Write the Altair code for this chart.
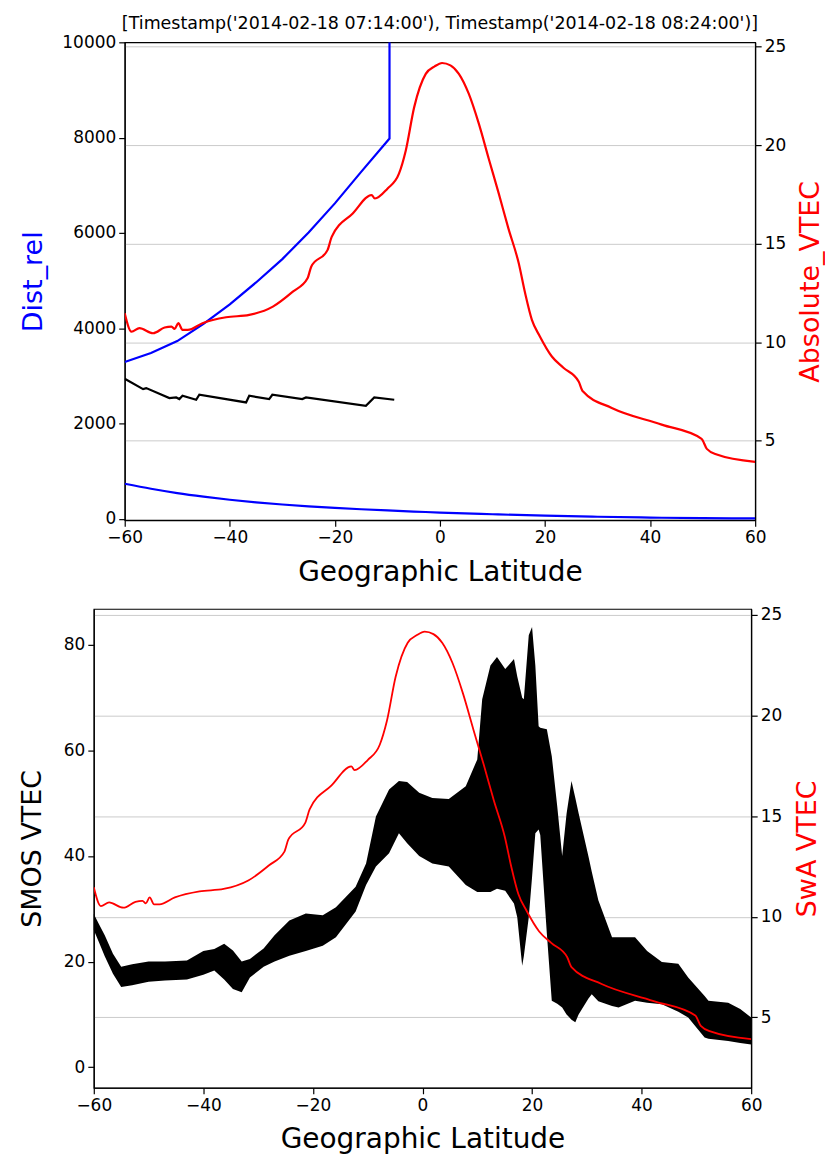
import altair as alt
import pandas as pd

FONT = "DejaVu Sans"

title_text = "[Timestamp('2014-02-18 07:14:00'), Timestamp('2014-02-18 08:24:00')]"
x_ticks = [-60, -40, -20, 0, 20, 40, 60]
left_top_ticks = [0, 2000, 4000, 6000, 8000, 10000]
left_bot_ticks = [0, 20, 40, 60, 80]
right_ticks = [5, 10, 15, 20, 25]

# --- top panel: Dist_rel (left axis) ---
blue_up_lat = [-60, -55, -50, -45, -40, -35, -30, -25, -20, -15, -9.6, -9.6]
blue_up_val = [3290, 3480, 3730, 4090, 4500, 4960, 5450, 6010, 6620, 7280, 7980, 10000]

blue_low_lat = [-60, -55, -50, -45, -40, -35, -30, -25, -20, -15, -10, -5, 0, 10, 20, 30, 40, 50, 60]
blue_low_val = [735, 630, 540, 465, 400, 345, 300, 260, 228, 200, 175, 152, 130, 95, 65, 42, 25, 14, 8]

black_lat = [-60, -56.5, -55.9, -51.5, -50.2, -49.6, -49.0, -46.4, -45.8, -36.9, -36.3,
             -32.5, -31.9, -26.2, -25.5, -14.1, -12.5, -8.7]
black_val = [2938, 2722, 2743, 2534, 2546, 2513, 2582, 2498, 2603, 2442, 2582,
             2513, 2603, 2513, 2546, 2373, 2546, 2498]

# --- Absolute VTEC / SwA VTEC (right axes) ---
vtec_lat = [-60, -58.7, -57.2, -54.6, -52.4, -51.1, -50.5, -49.8, -49.0, -48.0, -45.2,
            -40.7, -36.3, -31.8, -28.0, -25.2, -24.5, -21.4, -20.6, -16.6, -13.0, -12.4,
            -10.0, -7.8, -6.5, -4.9, -2.7, -1.0, 0.4, 2.0, 3.6, 5.5, 7.4, 9.3, 11.2, 13.0,
            15.0, 16.2, 17.5, 19.0, 21.3, 23.5, 26.4, 27.2, 32.7, 42.2, 49.8, 50.8, 52.7, 60]
vtec_val = [11.47, 10.53, 10.71, 10.45, 10.74, 10.79, 10.67, 10.96, 10.62, 10.62, 10.96,
            11.26, 11.38, 11.80, 12.56, 13.24, 13.83, 14.67, 15.34, 16.53, 17.47, 17.29,
            17.79, 18.55, 19.73, 21.93, 23.62, 24.00, 24.17, 24.05, 23.62, 22.60, 21.09, 19.30, 17.54, 15.80,
            14.00, 12.50, 11.13, 10.30, 9.27, 8.70, 8.00, 7.50, 6.66, 5.81, 5.09, 4.58, 4.29, 3.92]

# --- SMOS VTEC band (upper / lower envelope) ---
smos_lat = [-60, -59, -58, -56.5, -55, -53, -50, -47, -43, -40, -38, -36.2, -34.6, -33, -31.5,
            -29, -27, -24.3, -21.3, -18.2, -15.8, -12.2, -10.3, -8.5, -6.1, -4.3, -2.8, -0.6,
            1.8, 4.8, 7.9, 10.0, 10.9, 12.4, 13.6, 15.1, 16.7, 17.3, 18.2, 18.5, 19.4, 20.0,
            20.6, 21.2, 21.5, 22.7, 23.6, 24.6, 25.5, 26.3, 27.2, 27.9, 28.5, 30.3, 30.9, 32.1,
            34.6, 35.8, 38.8, 41.0, 43.7, 46.7, 48.5, 51.5, 52.2, 55.8, 58.0, 60.0]
smos_hi = [29.0, 27.0, 25.0, 21.5, 19.0, 19.5, 20.0, 20.0, 20.2, 22.0, 22.4, 23.4, 22.1, 20.0, 20.5,
           22.5, 25.0, 27.8, 29.1, 28.8, 30.3, 34.2, 38.6, 47.5, 52.6, 54.2, 54.0, 52.0,
           51.0, 50.8, 53.2, 58.3, 69.7, 76.1, 77.7, 75.4, 77.3, 74.0, 70.0, 69.7, 81.8, 83.4,
           76.1, 64.6, 64.3, 64.0, 58.9, 49.4, 40.0, 48.0, 54.2, 51.0, 48.1, 39.9, 37.0, 31.6,
           24.6, 24.6, 24.6, 22.0, 19.9, 19.6, 17.0, 13.5, 12.6, 12.2, 11.0, 9.4]
smos_lo = [26.0, 23.5, 21.0, 17.7, 15.2, 15.5, 16.2, 16.4, 16.6, 17.5, 18.3, 16.6, 14.8, 14.2, 17.0,
           19.0, 20.0, 21.1, 22.0, 23.0, 24.6, 29.5, 34.5, 38.0, 40.5, 44.3, 42.4, 40.0,
           38.6, 38.0, 34.5, 33.2, 33.2, 33.2, 33.8, 33.4, 31.0, 28.4, 19.2, 21.0, 28.4, 36.0,
           44.3, 45.0, 44.0, 25.3, 12.6, 12.0, 11.3, 10.0, 9.0, 8.5, 10.0, 13.0, 13.8, 12.5,
           11.6, 11.3, 12.6, 12.2, 11.9, 10.5, 9.4, 5.6, 5.4, 4.95, 4.6, 4.3]


def frame(lat, **cols):
    d = pd.DataFrame({"lat": lat, **cols})
    d["i"] = range(len(d))
    return d


df_bu = frame(blue_up_lat, val=blue_up_val)
df_bl = frame(blue_low_lat, val=blue_low_val)
df_bk = frame(black_lat, val=black_val)
df_vt = frame(vtec_lat, vtec=vtec_val)
df_sm = pd.DataFrame({"lat": smos_lat, "hi": smos_hi, "lo": smos_lo})

GRID = "#cbcbcb"


def x_enc():
    return alt.X("lat:Q", scale=alt.Scale(domain=[-60, 60], nice=False, zero=False),
                 axis=alt.Axis(values=x_ticks, title="Geographic Latitude", grid=False,
                               labelFlush=False, labelPadding=3.5, titlePadding=12.5,
                               titleFontSize=28))


# ---------------- top panel ----------------
y_left_top = alt.Y("val:Q", scale=alt.Scale(domain=[-29, 10000], nice=False, zero=False),
                   axis=alt.Axis(orient="left", values=left_top_ticks, format="d",
                                 title="Dist_rel", titleColor="blue", grid=False,
                                 titlePadding=14))

blue_up = alt.Chart(df_bu).mark_line(color="blue", strokeWidth=2.2, clip=True).encode(
    x=x_enc(), y=y_left_top, order="i:Q")
blue_low = alt.Chart(df_bl).mark_line(color="blue", strokeWidth=2.2, clip=True,
                                      interpolate="monotone").encode(
    x=x_enc(), y="val:Q", order="i:Q")
black_top = alt.Chart(df_bk).mark_line(color="black", strokeWidth=2.2, clip=True).encode(
    x=x_enc(), y="val:Q", order="i:Q")

red_top = alt.Chart(df_vt).mark_line(color="red", strokeWidth=2.2, clip=True,
                                     interpolate="monotone").encode(
    x=x_enc(),
    y=alt.Y("vtec:Q", scale=alt.Scale(domain=[0.96, 25.22], nice=False, zero=False),
            axis=alt.Axis(orient="right", values=right_ticks, title="Absolute_VTEC",
                          titleColor="red", grid=True, gridColor=GRID, gridWidth=1,
                          titleAngle=270, titleBaseline="top", titlePadding=12)),
    order="i:Q")

top = alt.layer(alt.layer(blue_up, blue_low, black_top), red_top).resolve_scale(
    y="independent").properties(
    width=632, height=479,
    title=alt.TitleParams(title_text, frame="group", anchor="middle", offset=1))

# ---------------- bottom panel ----------------
band = alt.Chart(df_sm).mark_area(color="black", fill="black", opacity=1).encode(
    x=x_enc(),
    y=alt.Y("hi:Q", scale=alt.Scale(domain=[-3.9, 86.8], nice=False, zero=False),
            axis=alt.Axis(orient="left", values=left_bot_ticks, title="SMOS VTEC",
                          titleColor="black", grid=False, titlePadding=17)),
    y2="lo:Q")

red_bot = alt.Chart(df_vt).mark_line(color="red", strokeWidth=1.8, clip=True,
                                     interpolate="monotone").encode(
    x=x_enc(),
    y=alt.Y("vtec:Q", scale=alt.Scale(domain=[1.5, 25.3], nice=False, zero=False),
            axis=alt.Axis(orient="right", values=right_ticks, title="SwA VTEC",
                          titleColor="red", grid=True, gridColor=GRID, gridWidth=1,
                          titleAngle=270, titleBaseline="top", titlePadding=13)),
    order="i:Q")

bottom = alt.layer(band, red_bot).resolve_scale(y="independent").properties(
    width=659, height=480)

# invisible 1x1 cell: lets the top panel sit further right than the bottom one
spacer = alt.Chart(pd.DataFrame({"s": [0]})).mark_point(opacity=0).properties(
    width=1, height=1, view=alt.ViewBackground(stroke="transparent"))

top_row = alt.hconcat(spacer, top, spacing=-79)

chart = alt.vconcat(top_row, bottom, spacing=18).properties(
    padding={"left": 9, "top": 4, "right": 0, "bottom": 5},
    background="white",
).configure_view(stroke="black", strokeWidth=1.2).configure_axis(
    labelFont=FONT, titleFont=FONT, labelFontSize=17, titleFontSize=27,
    titleFontWeight="normal", labelColor="black", titleColor="black",
    tickColor="black", domainColor="black", tickSize=6, tickWidth=1.2,
    domainWidth=1.2, labelPadding=3,
).configure_title(font=FONT, fontSize=17.5, fontWeight="normal", color="black")

chart.save("out.html", embed_options={"renderer": "svg", "actions": False})
